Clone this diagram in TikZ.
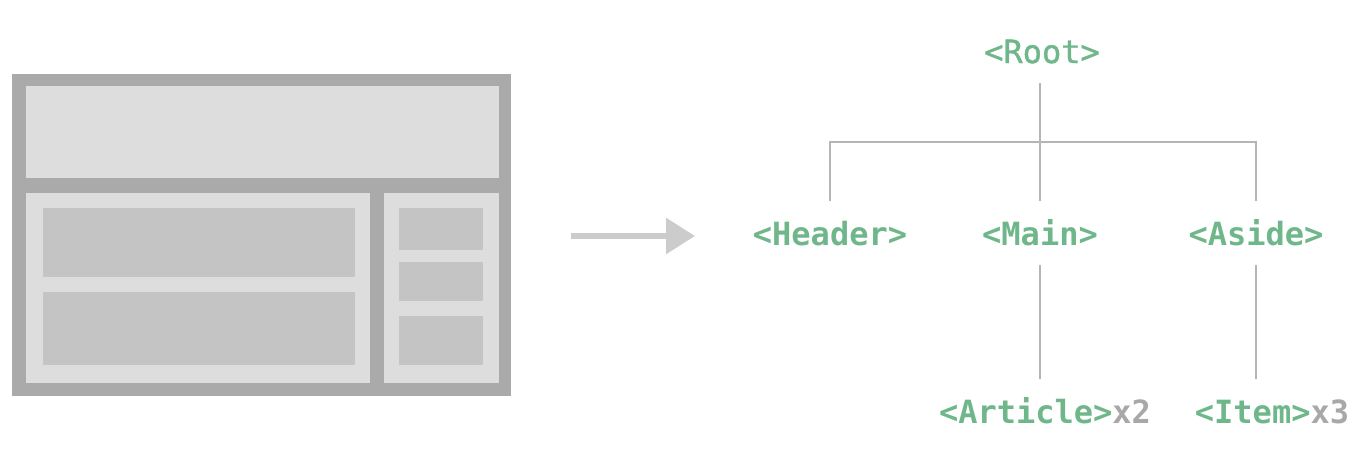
\documentclass[tikz,border=0pt]{standalone}
\usepackage{fontspec}
\usetikzlibrary{arrows.meta}
\newfontfamily\compfont{DejaVu Sans Mono}[BoldFont={DejaVu Sans Mono Bold}]
\newfontfamily\rootfont{DejaVu Sans Mono}[FakeBold=1.2]
\definecolor{outerg}{HTML}{AAAAAA}
\definecolor{panelg}{HTML}{DDDDDD}
\definecolor{innerg}{HTML}{C4C4C4}
\definecolor{arrowg}{HTML}{CCCCCC}
\definecolor{lineg}{HTML}{B5B5B5}
\definecolor{vgreen}{HTML}{6FB78A}
\definecolor{vgray}{HTML}{A8A8A8}
\tikzset{
  comp/.style={font=\compfont\bfseries\fontsize{32}{38}\selectfont, text=vgreen,
    text height=24pt, text depth=0pt, inner xsep=0pt, inner ysep=20pt, anchor=base},
  rootcomp/.style={comp, font=\rootfont\fontsize{32}{38}\selectfont},
  tree/.style={draw=lineg, line width=2pt},
  outerbox/.style={fill=outerg},
  panelbox/.style={fill=panelg},
  innerbox/.style={fill=innerg}
}
\begin{document}
\begin{tikzpicture}[x=1pt,y=-1pt]
\useasboundingbox (0,0) rectangle (1360,448);
% layout sketch
\fill[outerbox] (12,74) rectangle (511,396);
\fill[panelbox] (26,86) rectangle (499,178);
\fill[panelbox] (26,193) rectangle (370,383);
\fill[panelbox] (384,193) rectangle (499,383);
\fill[innerbox] (43,208) rectangle (355,277);
\fill[innerbox] (43,292) rectangle (355,365);
\fill[innerbox] (399,208) rectangle (483,250);
\fill[innerbox] (399,262) rectangle (483,301);
\fill[innerbox] (399,316) rectangle (483,365);
% arrow
\coordinate (arrs) at (571,236);
\coordinate (arre) at (695,236);
\draw[arrowg, line width=6pt, -{Triangle[length=29pt,width=35pt]}] (arrs) -- (arre);
% tree
\node[rootcomp] (root) at (1042,63) {<Root>};
\node[comp] (header) at (830,245) {<Header>};
\node[comp] (main) at (1040,245) {<Main>};
\node[comp] (aside) at (1256,245) {<Aside>};
\node[comp] (article) at (1045,423) {<Article>\textcolor{vgray}{x2}};
\node[comp] (item) at (1272,423) {<Item>\textcolor{vgray}{x3}};
\coordinate (bar) at (1040,142);
\draw[tree] (root.south -| bar) -- (bar);
\draw[tree] (header.north) |- (bar) -| (aside.north);
\draw[tree] (bar) -- (main.north);
\draw[tree] (main.south) -- (main.south |- article.north);
\draw[tree] (aside.south) -- (aside.south |- item.north);
\end{tikzpicture}
\end{document}
